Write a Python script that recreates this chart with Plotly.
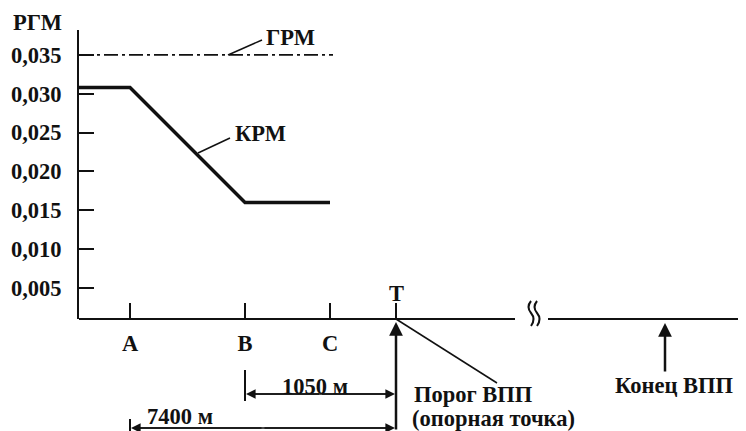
import plotly.graph_objects as go

# ---------------- data ----------------
point_names = ["A", "B", "C", "Т"]          # schematic points along the approach path
point_pos = [51, 166, 251, 317]             # schematic (not-to-scale) positions
runway_end_pos = 586
axis_end = 667

krm_x = [0, 51, 166, 251]
krm_y = [0.0308, 0.0308, 0.0160, 0.0160]
grm_x = [0, 254]
grm_y = [0.035, 0.035]

y_ticks = [0.005, 0.010, 0.015, 0.020, 0.025, 0.030, 0.035]
dist_labels = ["1050 м", "7400 м"]
curve_labels = ["КРМ", "ГРМ"]
y_title = "РГМ"
threshold_label = ["Порог ВПП", "(опорная точка)"]
runway_end_label = "Конец ВПП"

# ---------------- layout helpers (reference pixel coords) ----------------
OFF = 8                      # page body margin
W, H = 746 - OFF, 431 - OFF
ML, MT, MB = 79 - OFF, 30 - OFF, 431 - 319
PH = H - MT - MB
PW = W - ML


def fy(p):
    return (319 - p) / PH


def fx(p):
    return (p - 79) / PW


FONT = "Liberation Serif"
FS = 22.5
BLACK = "#111111"

fig = go.Figure()
fig.add_trace(go.Scatter(x=krm_x, y=krm_y, mode="lines",
                         line=dict(color=BLACK, width=3.5), hoverinfo="skip"))
fig.add_trace(go.Scatter(x=grm_x, y=grm_y, mode="lines",
                         line=dict(color=BLACK, width=1.6, dash="14px,4px,3px,4px"),
                         hoverinfo="skip"))

shapes = []
line_style = dict(color=BLACK, width=2)
# x axis drawn in two pieces (with break)
shapes.append(dict(type="line", xref="x", yref="paper", x0=0, x1=436, y0=0, y1=0, line=line_style))
shapes.append(dict(type="line", xref="x", yref="paper", x0=469, x1=axis_end, y0=0, y1=0, line=line_style))
# break symbol (two wavy strokes)
for xo in (531, 537):
    pts = [(xo, 301), (xo - 5, 307), (xo, 313), (xo + 5, 319), (xo, 326)]
    path = "M {:.4f},{:.4f} Q {:.4f},{:.4f} {:.4f},{:.4f} Q {:.4f},{:.4f} {:.4f},{:.4f}".format(
        fx(pts[0][0]), fy(pts[0][1]), fx(pts[1][0]), fy(pts[1][1]), fx(pts[2][0]), fy(pts[2][1]),
        fx(pts[3][0]), fy(pts[3][1]), fx(pts[4][0]), fy(pts[4][1]))
    shapes.append(dict(type="path", xref="paper", yref="paper", path=path,
                       line=dict(color=BLACK, width=2)))
# leader lines
shapes.append(dict(type="line", xref="paper", yref="paper", x0=fx(228), y0=fy(55), x1=fx(262), y1=fy(40),
                   line=dict(color=BLACK, width=1.5)))
shapes.append(dict(type="line", xref="paper", yref="paper", x0=fx(198), y0=fy(153), x1=fx(230), y1=fy(138),
                   line=dict(color=BLACK, width=1.5)))
shapes.append(dict(type="line", xref="x", yref="paper", x0=point_pos[3], y0=0, x1=point_pos[3] + 101, y1=fy(383),
                   line=dict(color=BLACK, width=1.5)))
# dimension extension bars
shapes.append(dict(type="line", xref="x", yref="paper", x0=point_pos[1], x1=point_pos[1],
                   y0=fy(370), y1=fy(401), line=dict(color=BLACK, width=2)))
shapes.append(dict(type="line", xref="x", yref="paper", x0=point_pos[0], x1=point_pos[0],
                   y0=fy(419), y1=fy(431), line=dict(color=BLACK, width=2)))
# dimension lines (full span; heads added by annotations)
for (start, yp) in ((point_pos[1], 394), (point_pos[0], 428)):
    shapes.append(dict(type="line", xref="x", yref="paper", x0=start + 4, x1=point_pos[3] - 4,
                       y0=fy(yp), y1=fy(yp), line=dict(color=BLACK, width=1.6)))

ann = []
tf = dict(family=FONT, size=FS, color=BLACK, weight="bold")


def label(text, x, y, xref="paper", xanchor="center"):
    return dict(text=text, xref=xref, yref="paper", x=x, y=y, xanchor=xanchor, yanchor="middle",
                showarrow=False, font=tf, borderpad=0)


ann.append(label(y_title, fx(37), fy(22)))
ann.append(label(curve_labels[1], fx(290), fy(38)))
ann.append(label(curve_labels[0], fx(260), fy(133)))
ann.append(label(point_names[3], point_pos[3], fy(293), xref="x"))
ann.append(label(threshold_label[0], fx(413), fy(394), xanchor="left"))
ann.append(label(threshold_label[1], fx(411), fy(418), xanchor="left"))
ann.append(label(runway_end_label, fx(674), fy(385)))
ann.append(label(dist_labels[0], fx(315), fy(386)))
ann.append(label(dist_labels[1], fx(180), fy(416)))
# arrows
arr = dict(showarrow=True, text="", arrowcolor=BLACK, arrowhead=2, arrowsize=1.1, arrowwidth=2.5)
ann.append(dict(xref="x", yref="paper", x=point_pos[3], y=fy(322), axref="pixel", ayref="pixel",
                ax=0, ay=112, **arr))
ann.append(dict(xref="x", yref="paper", x=runway_end_pos, y=fy(323), axref="pixel", ayref="pixel",
                ax=0, ay=50, **arr))
# dimension arrowheads: each drawn as two single-headed halves from the midpoint outward
darr = dict(showarrow=True, text="", arrowcolor=BLACK, arrowhead=2, arrowsize=1.2, arrowwidth=1.6)
for (start, yp) in ((point_pos[1], 394), (point_pos[0], 428)):
    mid = (start + point_pos[3]) / 2
    for tip in (start + 1, point_pos[3] - 1):
        ann.append(dict(xref="x", yref="paper", x=tip, y=fy(yp), axref="x", ayref="pixel",
                        ax=mid, ay=0, **darr))

fig.update_layout(
    width=W, height=H,
    margin=dict(l=ML, r=0, t=MT, b=MB, pad=0),
    paper_bgcolor="white", plot_bgcolor="white",
    showlegend=False,
    separators=", ",
    shapes=shapes, annotations=ann,
    xaxis=dict(range=[0, axis_end], showline=False, showgrid=False, zeroline=False,
               tickmode="array", tickvals=point_pos, ticktext=point_names[:3] + [""],
               ticks="inside", ticklen=16, tickwidth=2, tickcolor=BLACK,
               tickfont=dict(family=FONT, size=FS, color=BLACK, weight="bold"),
               ticklabelstandoff=8, fixedrange=True),
    yaxis=dict(range=[0.001, 0.0382], showline=True, linewidth=2, linecolor=BLACK,
               showgrid=False, zeroline=False,
               tickmode="array", tickvals=y_ticks, tickformat=".3f",
               ticks="inside", ticklen=15, tickwidth=2, tickcolor=BLACK,
               tickfont=dict(family=FONT, size=FS, color=BLACK, weight="bold"),
               ticklabelstandoff=11, fixedrange=True),
)

fig.write_html("out.html")
